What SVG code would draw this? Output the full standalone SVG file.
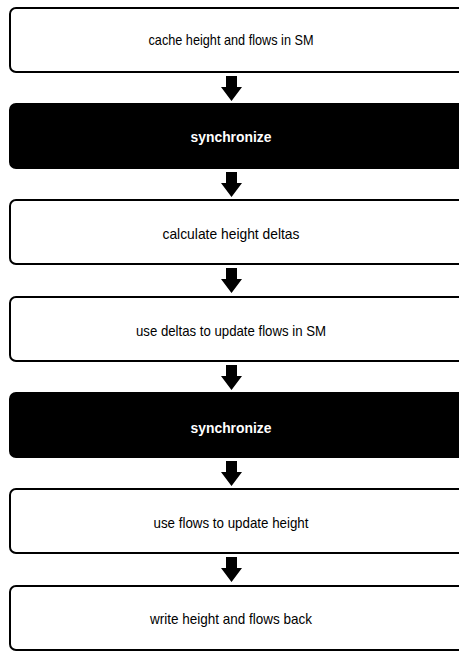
<svg xmlns="http://www.w3.org/2000/svg" width="459" height="651" viewBox="0 0 459 651">
<defs>
<style>
.box{fill:#fff;stroke:#000;stroke-width:2}
.dark{fill:#000;stroke:#000;stroke-width:2}
.t{font-family:"Liberation Sans",Arial,sans-serif;font-size:15px;text-anchor:middle;fill:#000}
.tw{font-family:"Liberation Sans",Arial,sans-serif;font-size:15px;font-weight:bold;text-anchor:middle;fill:#fff}
.arr{fill:#000}
</style>
<path id="a" d="M-5,0 h11 v11 h5 l-10.5,14 l-10.5,-14 h5 z"/>
</defs>
<g id="n1"><rect class="box" x="10" y="8" width="456" height="64" rx="6"/><text class="t" x="231" y="45" textLength="165" lengthAdjust="spacingAndGlyphs">cache height and flows in SM</text></g>
<g id="n2"><rect class="dark" x="10" y="104" width="456" height="64" rx="6"/><text class="tw" x="231" y="142" textLength="81" lengthAdjust="spacingAndGlyphs">synchronize</text></g>
<g id="n3"><rect class="box" x="10" y="200" width="456" height="64" rx="6"/><text class="t" x="231" y="239" textLength="137" lengthAdjust="spacingAndGlyphs">calculate height deltas</text></g>
<g id="n4"><rect class="box" x="10" y="297" width="456" height="64" rx="6"/><text class="t" x="231" y="336" textLength="190" lengthAdjust="spacingAndGlyphs">use deltas to update flows in SM</text></g>
<g id="n5"><rect class="dark" x="10" y="393" width="456" height="64" rx="6"/><text class="tw" x="231" y="433" textLength="81" lengthAdjust="spacingAndGlyphs">synchronize</text></g>
<g id="n6"><rect class="box" x="10" y="489" width="456" height="64" rx="6"/><text class="t" x="231" y="528" textLength="155" lengthAdjust="spacingAndGlyphs">use flows to update height</text></g>
<g id="n7"><rect class="box" x="10" y="586" width="456" height="64" rx="6"/><text class="t" x="231" y="624" textLength="162" lengthAdjust="spacingAndGlyphs">write height and flows back</text></g>
<g id="connectors">
<use href="#a" x="231" y="76" class="arr"/>
<use href="#a" x="231" y="172" class="arr"/>
<use href="#a" x="231" y="268" class="arr"/>
<use href="#a" x="231" y="365" class="arr"/>
<use href="#a" x="231" y="461" class="arr"/>
<use href="#a" x="231" y="557" class="arr"/>
</g>
</svg>
